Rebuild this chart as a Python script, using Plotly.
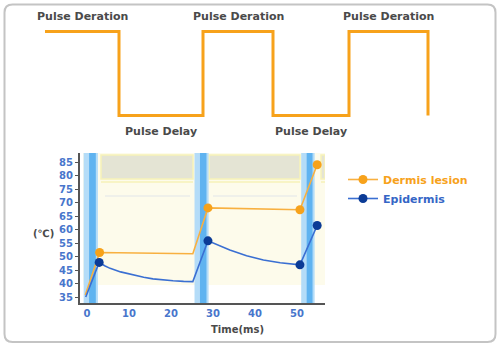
import plotly.graph_objects as go

W, H = 500, 345

# ---------------- data ----------------
# Top pulse diagram (relative time units of the schematic)
pulse_t = [0, 74, 158, 228, 304, 383]
pulse_level = [1, 0, 1, 0, 1, 0]
pulse_labels_high = ["Pulse Deration", "Pulse Deration", "Pulse Deration"]
pulse_labels_low = ["Pulse Delay", "Pulse Delay"]

# Temperature chart (ms, degC)
laser_on_start = [0.5, 26.9, 52.3]
laser_on_end = [2.1, 28.45, 53.7]

dermis_t = [-0.4, 3.0, 25.2, 28.8, 50.7, 54.8]
dermis_temp = [35.7, 51.5, 51.0, 68.0, 67.3, 84.0]
dermis_marker = [0, 1, 0, 1, 1, 1]

epi_t = [-0.3, 2.9, 4.2, 5.5, 8.0, 11.0, 13.5, 15.7, 18.0, 20.5, 23.0, 25.2,
         28.8, 31.5, 34.0, 38.0, 42.0, 46.0, 50.7, 54.8]
epi_temp = [35.0, 47.8, 46.6, 45.6, 44.3, 43.1, 42.3, 41.7, 41.3, 41.0, 40.8, 40.7,
            55.8, 54.0, 52.4, 50.3, 48.7, 47.7, 46.9, 61.5]
epi_marker = [0, 1, 0, 0, 0, 0, 0, 0, 0, 0, 0, 0, 1, 0, 0, 0, 0, 0, 1, 1]

y_ticks = [35, 40, 45, 50, 55, 60, 65, 70, 75, 80, 85]
x_ticks = [0, 10, 20, 30, 40, 50]

# ---------------- style ----------------
ORANGE = "#F7A21B"
ORANGE_LINE = "#F8B040"
BLUE_LINE = "#3A6FD2"
BLUE_MARK = "#0B3B96"
TICK_BLUE = "#4876CC"
GRAY_TXT = "#4A4A4A"


def pxx(p):
    return p / W


def pxy(p):
    return 1 - p / H


fig = go.Figure()

# pulse wave
fig.add_trace(go.Scatter(
    x=pulse_t, y=pulse_level, mode="lines", line=dict(color=ORANGE, width=3, shape="hv"),
    xaxis="x2", yaxis="y2", showlegend=False, hoverinfo="skip"))

# curves
fig.add_trace(go.Scatter(
    x=dermis_t, y=dermis_temp, mode="lines", line=dict(color=ORANGE_LINE, width=1.6),
    showlegend=False, hoverinfo="skip"))
fig.add_trace(go.Scatter(
    x=epi_t, y=epi_temp, mode="lines", line=dict(color=BLUE_LINE, width=1.6),
    showlegend=False, hoverinfo="skip"))
fig.add_trace(go.Scatter(
    x=[t for t, m in zip(dermis_t, dermis_marker) if m],
    y=[v for v, m in zip(dermis_temp, dermis_marker) if m],
    mode="markers", marker=dict(color=ORANGE, size=9), showlegend=False))
fig.add_trace(go.Scatter(
    x=[t for t, m in zip(epi_t, epi_marker) if m],
    y=[v for v, m in zip(epi_temp, epi_marker) if m],
    mode="markers", marker=dict(color=BLUE_MARK, size=9), showlegend=False))

# legend entries
fig.add_trace(go.Scatter(x=[None], y=[None], mode="lines+markers",
                         name="<span style='color:%s'>Dermis lesion</span>" % ORANGE,
                         line=dict(color=ORANGE_LINE, width=1.6), marker=dict(color=ORANGE, size=9)))
fig.add_trace(go.Scatter(x=[None], y=[None], mode="lines+markers",
                         name="<span style='color:%s'>Epidermis</span>" % "#3566C6",
                         line=dict(color=BLUE_LINE, width=1.6), marker=dict(color=BLUE_MARK, size=9)))

# chart coordinate helpers (pixels -> data)
X0PX, XSC = 87.0, 4.2   # 0 ms at px 87, 4.2 px per ms
Y85PX, YSC = 162.0, 2.7  # 85 degC at px 162, 2.7 px per degC


def tx(p):
    return (p - X0PX) / XSC


def ty(p):
    return 85 - (p - Y85PX) / YSC


shapes = []
# outer frame
r = 8
x0, x1, y0, y1 = 4.5, 495.5, 4.5, 342
path = (f"M {pxx(x0 + r)},{pxy(y0)} L {pxx(x1 - r)},{pxy(y0)} Q {pxx(x1)},{pxy(y0)} {pxx(x1)},{pxy(y0 + r)} "
        f"L {pxx(x1)},{pxy(y1 - r)} Q {pxx(x1)},{pxy(y1)} {pxx(x1 - r)},{pxy(y1)} "
        f"L {pxx(x0 + r)},{pxy(y1)} Q {pxx(x0)},{pxy(y1)} {pxx(x0)},{pxy(y1 - r)} "
        f"L {pxx(x0)},{pxy(y0 + r)} Q {pxx(x0)},{pxy(y0)} {pxx(x0 + r)},{pxy(y0)} Z")
shapes.append(dict(type="path", xref="paper", yref="paper", path=path,
                   line=dict(color="#C4C4C4", width=2), layer="below"))

# plot background
shapes.append(dict(type="rect", xref="x", yref="y", x0=tx(83), x1=tx(325), y0=ty(285), y1=ty(153),
                   fillcolor="#FDFBEB", line=dict(width=0), layer="below"))
# gray boxes in the delay intervals
gray_x = [(101, 193), (209, 300), (321, 325)]
for a, b in gray_x:
    shapes.append(dict(type="rect", xref="x", yref="y", x0=tx(a), x1=tx(b), y0=ty(179), y1=ty(155),
                       fillcolor="#E4E4D4", line=dict(color="#F6F2B8", width=1.5), layer="below"))
    shapes.append(dict(type="line", xref="x", yref="y", x0=tx(a), x1=tx(b), y0=ty(182), y1=ty(182),
                       line=dict(color="#F6F2B8", width=1.5), layer="below"))
for a, b in gray_x[:2]:
    shapes.append(dict(type="line", xref="x", yref="y", x0=tx(a + 4), x1=tx(b - 3), y0=ty(196), y1=ty(196),
                       line=dict(color="#E2E6EA", width=1.2), layer="below"))
# laser-on bands
for s, e in zip(laser_on_start, laser_on_end):
    shapes.append(dict(type="rect", xref="x", yref="y", x0=s - 1.3, x1=e + 0.5, y0=ty(303), y1=ty(153),
                       fillcolor="#B4DCF8", line=dict(width=0), layer="below"))
    shapes.append(dict(type="rect", xref="x", yref="y", x0=s, x1=e, y0=ty(303), y1=ty(153),
                       fillcolor="#5FB3F0", line=dict(width=0), layer="below"))

annotations = []
for i, lab in enumerate(pulse_labels_high):
    cx = (pulse_t[2 * i] + pulse_t[2 * i + 1]) / 2
    annotations.append(dict(x=cx, y=1.175, xref="x2", yref="y2", text=lab, showarrow=False,
                            font=dict(family="DejaVu Sans", size=11, color=GRAY_TXT, weight="bold")))
for i, lab in enumerate(pulse_labels_low):
    cx = (pulse_t[2 * i + 1] + pulse_t[2 * i + 2]) / 2
    annotations.append(dict(x=cx, y=-0.185, xref="x2", yref="y2", text=lab, showarrow=False,
                            font=dict(family="DejaVu Sans", size=11, color=GRAY_TXT, weight="bold")))
annotations.append(dict(x=pxx(43), y=pxy(233), xref="paper", yref="paper", text="(℃)", showarrow=False,
                        xanchor="center", yanchor="middle",
                        font=dict(family="DejaVu Sans", size=10, color=GRAY_TXT, weight="bold")))
annotations.append(dict(x=pxx(237), y=pxy(329), xref="paper", yref="paper", text="Time(ms)", showarrow=False,
                        xanchor="center", yanchor="middle",
                        font=dict(family="DejaVu Sans", size=10, color=GRAY_TXT, weight="bold")))

fig.update_layout(
    width=W, height=H, margin=dict(l=0, r=0, t=0, b=0),
    paper_bgcolor="white", plot_bgcolor="rgba(0,0,0,0)",
    shapes=shapes, annotations=annotations,
    xaxis=dict(domain=[pxx(80), pxx(325)], range=[tx(80), tx(325)], anchor="y",
               showline=True, linecolor="#555555", linewidth=2, ticks="", showgrid=False, zeroline=False,
               tickvals=x_ticks, tickfont=dict(family="DejaVu Sans", size=10, color=TICK_BLUE, weight="bold")),
    yaxis=dict(domain=[pxy(303), pxy(153)], range=[ty(303), ty(153)], anchor="x",
               showline=True, linecolor="#555555", linewidth=2, ticks="outside", ticklen=3, tickcolor="#555555",
               showgrid=False, zeroline=False, tickvals=y_ticks,
               tickfont=dict(family="DejaVu Sans", size=10, color=TICK_BLUE, weight="bold")),
    xaxis2=dict(domain=[0, 1], range=[-45, 455], anchor="y2", visible=False),
    yaxis2=dict(domain=[pxy(140), 1], range=[(115.5 - 140) / 84, 115.5 / 84], anchor="x2", visible=False),
    legend=dict(x=pxx(343), y=pxy(165), xanchor="left", yanchor="top", bgcolor="rgba(0,0,0,0)",
                font=dict(family="DejaVu Sans", size=11, weight="bold"), tracegroupgap=0,
                itemwidth=30),
    showlegend=True,
)

fig.write_html("out.html")
